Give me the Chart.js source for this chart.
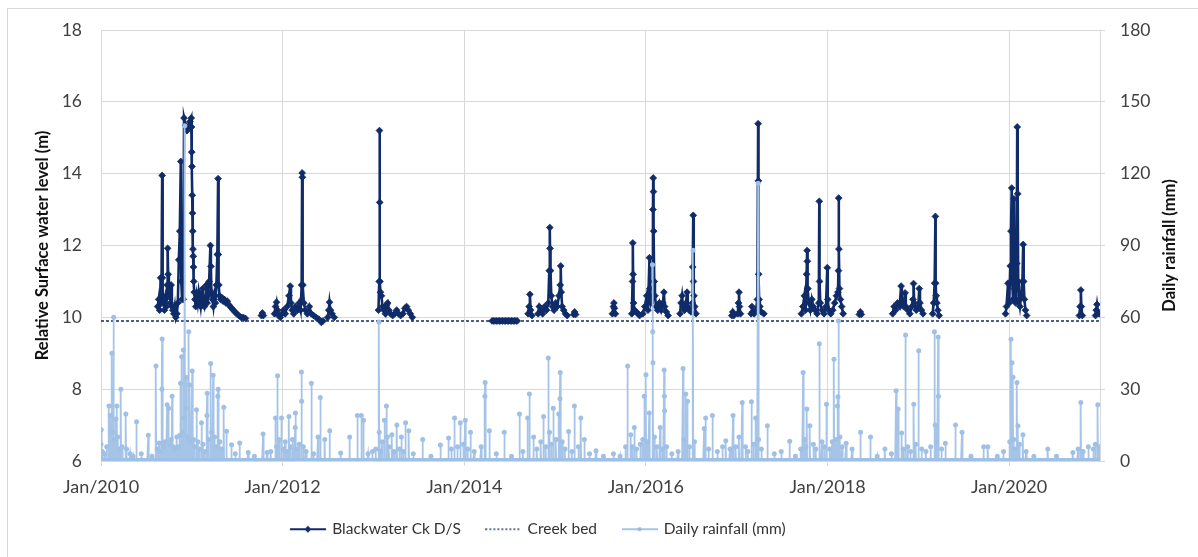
<!DOCTYPE html>
<html>
<head>
<meta charset="utf-8">
<title>Blackwater Creek D/S – surface water level and daily rainfall</title>
<script src="https://cdn.jsdelivr.net/npm/chart.js@4.4.1/dist/chart.umd.min.js"></script>
<style>
  html, body { margin: 0; padding: 0; background: #ffffff; }
  canvas { display: block; }
</style>
</head>
<body>
<canvas id="chart" width="1198" height="557"></canvas>
<script>
// ---- Axis ticks ----
const xTickDates  = ["2010-01-01", "2012-01-01", "2014-01-01", "2016-01-01", "2018-01-01", "2020-01-01"];
const xTickLabels = ["Jan/2010", "Jan/2012", "Jan/2014", "Jan/2016", "Jan/2018", "Jan/2020"];
const xRange = ["2010-01-01", "2021-01-01"];
const levelRange = [6, 18, 2];      // min, max, step (m)
const rainRange = [0, 180, 30];     // min, max, step (mm)

// ---- Creek bed reference level (m) ----
const creekBedLevel = 9.9;

// ---- Blackwater Ck D/S relative surface water level (m); null marks a break in the record ----
const waterLevel = [
  ["2010-08-17",10.3],["2010-08-21",10.5],["2010-08-25",10.2],["2010-08-29",11.1],["2010-09-01",10.4],
  ["2010-09-04",13.95],["2010-09-05",11.1],["2010-09-07",10.6],["2010-09-10",10.4],["2010-09-13",10.2],
  ["2010-09-17",10.5],["2010-09-21",10.3],["2010-09-24",10.9],["2010-09-26",11.92],["2010-09-28",11.2],
  ["2010-10-01",10.6],["2010-10-04",10.9],["2010-10-07",10.4],["2010-10-10",10.9],["2010-10-13",10.3],
  ["2010-10-17",10.2],["2010-10-21",10.1],["2010-10-25",10.3],["2010-10-29",10.0],["2010-11-02",10.1],
  ["2010-11-06",10.4],["2010-11-10",11.6],["2010-11-14",12.4],["2010-11-18",14.34],["2010-11-20",11.0],
  ["2010-11-23",10.5],["2010-11-28",10.5],["2010-12-01",15.55],["2010-12-07",15.35],["2010-12-13",15.2],
  ["2010-12-19",15.3],["2010-12-25",15.45],["2010-12-30",15.55],["2010-12-31",15.3],["2011-01-01",14.6],
  ["2011-01-02",14.2],["2011-01-03",13.4],["2011-01-04",12.9],["2011-01-05",12.4],["2011-01-06",11.9],
  ["2011-01-07",11.7],["2011-01-08",11.4],["2011-01-09",11.0],["2011-01-11",10.7],["2011-01-14",10.5],
  ["2011-01-17",10.3],["2011-01-21",10.6],["2011-01-25",10.4],["2011-01-29",10.7],["2011-02-02",10.5],
  ["2011-02-06",10.3],["2011-02-10",10.6],["2011-02-14",10.8],["2011-02-17",10.4],["2011-02-21",10.3],
  ["2011-02-25",10.5],["2011-03-01",10.9],["2011-03-04",10.4],["2011-03-08",10.6],["2011-03-12",11.0],
  ["2011-03-17",12.0],["2011-03-19",11.42],["2011-03-21",10.7],["2011-03-25",10.5],["2011-03-29",10.3],
  ["2011-04-02",10.6],["2011-04-06",10.4],["2011-04-10",10.9],["2011-04-14",11.75],["2011-04-17",13.86],
  ["2011-04-18",11.75],["2011-04-20",10.9],["2011-04-23",10.6],["2011-04-27",10.5],["2011-05-02",10.55],
  ["2011-05-07",10.45],["2011-05-12",10.5],["2011-05-18",10.4],["2011-05-24",10.45],["2011-05-30",10.35],
  ["2011-06-05",10.3],["2011-06-11",10.25],["2011-06-17",10.2],["2011-06-24",10.15],["2011-07-01",10.1],
  ["2011-07-09",10.05],["2011-07-18",10.0],["2011-07-27",10.0],["2011-08-05",9.97],
  ["2011-08-20",null],
  ["2011-10-08",10.05],["2011-10-12",10.12],["2011-10-16",10.05],
  ["2011-11-10",null],
  ["2011-11-30",10.1],["2011-12-04",10.3],["2011-12-08",10.42],["2011-12-12",10.2],["2011-12-17",10.05],
  ["2011-12-23",10.0],["2011-12-30",10.1],["2012-01-05",10.2],["2012-01-12",10.1],["2012-01-20",10.3],
  ["2012-01-27",10.6],["2012-02-01",10.87],["2012-02-04",10.4],["2012-02-09",10.2],["2012-02-15",10.1],
  ["2012-02-22",10.3],["2012-03-01",10.2],["2012-03-08",10.4],["2012-03-14",10.2],["2012-03-18",10.9],
  ["2012-03-20",14.02],["2012-03-21",13.9],["2012-03-23",10.9],["2012-03-27",10.4],["2012-04-02",10.2],
  ["2012-04-10",10.1],["2012-04-18",10.3],["2012-04-26",10.1],["2012-05-05",10.05],["2012-05-15",10.0],
  ["2012-05-26",9.95],["2012-06-05",9.86],["2012-06-12",9.9],
  ["2012-06-20",null],
  ["2012-07-01",10.0],["2012-07-05",10.2],["2012-07-08",10.42],["2012-07-12",10.2],["2012-07-18",10.1],
  ["2012-07-27",10.0],
  ["2012-08-15",null],
  ["2013-01-21",10.2],["2013-01-24",11.0],["2013-01-25",15.2],["2013-01-26",13.2],["2013-01-27",11.0],
  ["2013-01-29",10.7],["2013-02-02",10.6],["2013-02-06",10.3],["2013-02-12",10.2],["2013-02-18",10.1],
  ["2013-02-23",10.35],["2013-02-27",10.4],["2013-03-04",10.2],["2013-03-11",10.1],["2013-03-19",10.05],
  ["2013-03-27",10.1],["2013-04-04",10.2],["2013-04-12",10.1],["2013-04-20",10.05],["2013-04-29",10.1],
  ["2013-05-07",10.25],["2013-05-14",10.3],["2013-05-21",10.2],["2013-05-29",10.1],["2013-06-06",10.0],
  ["2013-07-01",null],
  ["2014-04-23",9.9],["2014-04-29",9.9],["2014-05-05",9.9],["2014-05-11",9.9],["2014-05-17",9.9],
  ["2014-05-23",9.9],["2014-05-29",9.9],["2014-06-04",9.9],["2014-06-10",9.9],["2014-06-16",9.9],
  ["2014-06-22",9.9],["2014-06-28",9.9],["2014-07-04",9.9],["2014-07-10",9.9],["2014-07-16",9.9],
  ["2014-07-22",9.9],["2014-07-28",9.9],["2014-08-02",9.9],
  ["2014-08-20",null],
  ["2014-09-15",10.1],["2014-09-19",10.3],["2014-09-22",10.64],["2014-09-25",10.2],["2014-09-30",10.05],
  ["2014-10-12",null],
  ["2014-10-25",10.1],["2014-10-30",10.3],["2014-11-05",10.2],["2014-11-12",10.1],["2014-11-20",10.3],
  ["2014-11-28",10.2],["2014-12-05",10.4],["2014-12-09",11.3],["2014-12-11",12.5],["2014-12-12",11.92],
  ["2014-12-14",11.3],["2014-12-17",10.6],["2014-12-22",10.3],["2014-12-28",10.2],["2015-01-04",10.4],
  ["2015-01-10",10.3],["2015-01-17",10.6],["2015-01-22",10.9],["2015-01-24",11.43],["2015-01-26",10.7],
  ["2015-01-30",10.3],["2015-02-05",10.2],["2015-02-12",10.1],["2015-02-19",10.05],
  ["2015-03-05",null],
  ["2015-03-17",10.08],["2015-03-21",10.15],["2015-03-25",10.08],
  ["2015-05-01",null],
  ["2015-08-20",10.1],["2015-08-24",10.3],["2015-08-26",10.4],["2015-08-28",10.25],["2015-09-01",10.1],
  ["2015-10-01",null],
  ["2015-11-06",10.1],["2015-11-09",11.0],["2015-11-10",12.07],["2015-11-11",11.2],["2015-11-13",10.4],
  ["2015-11-17",10.2],["2015-11-24",10.15],["2015-12-01",10.1],["2015-12-07",10.05],
  ["2015-12-14",null],
  ["2015-12-20",10.1],["2015-12-28",10.3],["2016-01-05",10.6],["2016-01-10",10.2],["2016-01-16",11.66],
  ["2016-01-18",10.8],["2016-01-22",10.4],["2016-01-27",10.5],["2016-01-30",13.0],["2016-01-31",13.88],
  ["2016-02-01",13.5],["2016-02-02",12.4],["2016-02-04",11.0],["2016-02-07",10.6],["2016-02-12",10.3],
  ["2016-02-18",10.2],["2016-02-25",10.4],["2016-03-03",10.2],["2016-03-10",10.4],["2016-03-14",10.7],
  ["2016-03-17",10.3],["2016-03-24",10.15],["2016-03-31",10.05],
  ["2016-04-20",null],
  ["2016-05-18",10.1],["2016-05-22",10.4],["2016-05-26",10.6],["2016-05-30",10.3],["2016-06-05",10.2],
  ["2016-06-11",10.4],["2016-06-15",10.7],["2016-06-18",10.3],["2016-06-24",10.2],["2016-07-01",10.15],
  ["2016-07-06",10.4],["2016-07-08",11.4],["2016-07-10",12.84],["2016-07-11",11.0],["2016-07-13",10.6],
  ["2016-07-16",10.3],["2016-07-21",10.1],
  ["2016-09-01",null],
  ["2016-12-12",10.05],["2016-12-16",10.15],["2016-12-20",10.05],
  ["2016-12-30",null],
  ["2017-01-05",10.1],["2017-01-08",10.4],["2017-01-10",10.7],["2017-01-12",10.3],["2017-01-16",10.1],
  ["2017-02-10",null],
  ["2017-02-28",10.1],["2017-03-03",10.3],["2017-03-06",10.15],["2017-03-12",10.1],["2017-03-19",10.2],
  ["2017-03-25",10.5],["2017-03-28",15.39],["2017-03-29",13.8],["2017-03-30",11.2],["2017-04-01",10.5],
  ["2017-04-04",10.3],["2017-04-10",10.15],["2017-04-20",10.1],
  ["2017-06-01",null],
  ["2017-09-18",10.1],["2017-09-24",10.3],["2017-09-30",10.6],["2017-10-05",10.2],["2017-10-09",11.2],
  ["2017-10-11",11.86],["2017-10-12",11.56],["2017-10-14",10.8],["2017-10-18",10.4],["2017-10-24",10.2],
  ["2017-10-30",10.5],["2017-11-05",10.3],["2017-11-12",10.2],["2017-11-20",10.1],["2017-11-27",10.4],
  ["2017-11-29",13.23],["2017-11-30",11.0],["2017-12-03",10.4],["2017-12-10",10.2],["2017-12-18",10.1],
  ["2017-12-26",10.3],["2017-12-31",11.38],["2018-01-02",10.5],["2018-01-06",10.2],["2018-01-14",10.1],
  ["2018-01-22",10.2],["2018-01-30",10.4],["2018-02-06",10.6],["2018-02-12",10.7],["2018-02-14",11.3],
  ["2018-02-15",13.32],["2018-02-16",11.9],["2018-02-18",10.8],["2018-02-22",10.5],["2018-02-27",10.3],
  ["2018-03-05",10.1],
  ["2018-04-01",null],
  ["2018-05-09",10.08],["2018-05-13",10.15],["2018-05-17",10.08],
  ["2018-07-01",null],
  ["2018-09-20",10.1],["2018-09-26",10.3],["2018-10-02",10.2],["2018-10-10",10.4],["2018-10-18",10.3],
  ["2018-10-24",10.87],["2018-10-27",10.4],["2018-11-03",10.3],["2018-11-09",10.68],["2018-11-12",10.3],
  ["2018-11-20",10.2],["2018-11-28",10.1],["2018-12-06",10.3],["2018-12-11",10.5],["2018-12-13",10.94],
  ["2018-12-16",10.4],["2018-12-24",10.2],["2019-01-01",10.3],["2019-01-05",10.8],["2019-01-08",10.4],
  ["2019-01-14",10.2],["2019-01-20",10.1],
  ["2019-02-10",null],
  ["2019-02-28",10.1],["2019-03-04",10.4],["2019-03-08",10.95],["2019-03-11",12.81],["2019-03-12",10.95],
  ["2019-03-14",10.6],["2019-03-17",10.4],["2019-03-21",10.2],["2019-03-26",10.05],
  ["2019-06-01",null],
  ["2019-12-18",10.1],["2019-12-22",10.3],["2019-12-28",10.95],["2020-01-02",10.4],["2020-01-06",11.43],
  ["2020-01-09",12.4],["2020-01-12",13.6],["2020-01-14",11.0],["2020-01-17",10.5],["2020-01-21",13.3],
  ["2020-01-24",10.8],["2020-01-28",10.4],["2020-02-01",11.5],["2020-02-03",15.3],["2020-02-05",13.44],
  ["2020-02-07",11.0],["2020-02-10",10.5],["2020-02-14",10.3],["2020-02-19",10.6],["2020-02-24",11.0],
  ["2020-02-27",12.03],["2020-02-29",11.0],["2020-03-03",10.5],["2020-03-07",10.2],["2020-03-12",10.05],
  ["2020-06-01",null],
  ["2020-10-10",10.05],["2020-10-13",10.3],["2020-10-16",10.76],["2020-10-18",10.3],["2020-10-22",10.05],
  ["2020-11-20",null],
  ["2020-12-14",10.05],["2020-12-17",10.2],["2020-12-20",10.36],["2020-12-24",10.15],["2020-12-29",10.1]
];

// ---- Daily rainfall (mm): days with recorded rain; all other days are 0 mm ----
const dailyRainfall = [
  ["2010-01-01",7],["2010-01-02",13],["2010-01-06",4],["2010-01-15",3],["2010-01-24",6],["2010-02-02",23],
  ["2010-02-07",19],["2010-02-14",45],["2010-02-18",12],["2010-02-21",60],["2010-02-24",9],["2010-03-02",17.5],
  ["2010-03-06",23],["2010-03-10",10],["2010-03-16",5],["2010-03-22",30],["2010-03-27",6],["2010-04-11",19.6],
  ["2010-04-14",5],["2010-04-28",3],["2010-05-10",2],["2010-05-24",16.4],["2010-06-12",3],["2010-07-10",10.8],
  ["2010-07-25",2],["2010-08-10",39.7],["2010-08-15",5],["2010-08-23",7.5],["2010-08-28",4],["2010-09-03",30],
  ["2010-09-04",51],["2010-09-10",6],["2010-09-15",8],["2010-09-24",23.5],["2010-09-30",22],["2010-10-05",7],
  ["2010-10-10",9],["2010-10-14",27],["2010-10-20",6],["2010-10-26",5],["2010-11-02",10],["2010-11-08",6],
  ["2010-11-14",10.8],["2010-11-17",32.5],["2010-11-21",43.5],["2010-11-25",12],["2010-11-28",46.4],
  ["2010-12-01",18],["2010-12-04",140],["2010-12-07",22],["2010-12-11",35],["2010-12-15",10],["2010-12-20",54],
  ["2010-12-24",31.7],["2010-12-28",8],
  ["2011-01-03",37.6],["2011-01-08",9],["2011-01-13",6],["2011-01-20",21.4],["2011-01-26",8],["2011-02-02",5],
  ["2011-02-09",16],["2011-02-15",7],["2011-02-22",4],["2011-03-03",19],["2011-03-04",28.3],["2011-03-10",9],
  ["2011-03-18",40.7],["2011-03-22",12],["2011-03-28",35.8],["2011-04-03",10],["2011-04-09",6],["2011-04-16",27],
  ["2011-04-17",30],["2011-04-24",8],["2011-05-02",5],["2011-05-10",22.4],["2011-05-21",12.4],["2011-06-10",6.8],
  ["2011-06-25",3],["2011-07-13",7.5],["2011-08-16",3.5],["2011-09-10",2],["2011-10-15",11.3],["2011-10-31",3.5],
  ["2011-11-15",4],["2011-12-04",18],["2011-12-08",6],["2011-12-12",35.6],["2011-12-18",9],["2011-12-28",18],
  ["2012-01-05",5],["2012-01-12",8],["2012-01-20",4],["2012-01-27",18.6],["2012-02-02",6],["2012-02-10",9],
  ["2012-02-21",14],["2012-02-22",20],["2012-02-28",5],["2012-03-08",7],["2012-03-17",37.2],["2012-03-18",25],
  ["2012-03-25",6],["2012-04-05",4],["2012-04-26",32.5],["2012-05-05",3],["2012-05-23",10],["2012-06-01",26.5],
  ["2012-06-19",9],["2012-07-09",12.6],["2012-08-22",3.3],["2012-09-27",10],["2012-10-28",19],["2012-11-13",19],
  ["2012-11-22",17],["2012-12-10",3],["2012-12-28",4],
  ["2013-01-10",5],["2013-01-23",58],["2013-01-24",12],["2013-01-28",4],["2013-02-05",8],["2013-02-14",17],
  ["2013-02-22",23],["2013-02-26",10],["2013-03-04",6],["2013-03-16",11],["2013-03-25",4],["2013-04-05",15],
  ["2013-04-15",5],["2013-04-23",10],["2013-05-01",4],["2013-05-10",16],["2013-05-23",12.6],["2013-06-10",3],
  ["2013-07-18",9],["2013-08-20",2],["2013-09-27",6.7],["2013-10-30",9.6],["2013-11-10",5],["2013-11-23",18],
  ["2013-12-05",6],["2013-12-16",16],["2013-12-28",7],
  ["2014-01-05",17],["2014-01-15",5],["2014-01-26",12],["2014-02-10",4],["2014-03-10",6],["2014-03-25",27],
  ["2014-03-26",32.8],["2014-04-12",12.6],["2014-05-10",3],["2014-06-11",12],["2014-07-10",2],["2014-08-11",19.6],
  ["2014-08-25",4],["2014-09-13",18],["2014-09-20",28],["2014-10-07",10],["2014-10-20",5],["2014-11-05",8],
  ["2014-11-16",18.6],["2014-11-25",6],["2014-12-05",43],["2014-12-10",12],["2014-12-17",7],["2014-12-25",22],
  ["2015-01-05",9],["2015-01-16",19.6],["2015-01-21",26],["2015-01-22",37],["2015-01-30",8],["2015-02-10",5],
  ["2015-02-25",12.3],["2015-03-10",4],["2015-03-20",23],["2015-04-05",6],["2015-04-15",18],["2015-04-29",9],
  ["2015-05-20",3],["2015-06-15",4.3],["2015-07-15",2],["2015-08-24",3],["2015-09-20",2],["2015-10-12",6],
  ["2015-10-20",39.7],["2015-11-02",11],["2015-11-08",6],["2015-11-16",14],["2015-11-25",5],["2015-12-10",7],
  ["2015-12-20",9],["2015-12-26",27],
  ["2016-01-02",36],["2016-01-08",8],["2016-01-15",20],["2016-01-28",82],["2016-01-29",54],["2016-01-30",41],
  ["2016-02-05",10],["2016-02-15",6],["2016-02-28",14],["2016-03-08",5],["2016-03-15",38],["2016-03-16",27],
  ["2016-03-17",21],["2016-03-25",6],["2016-04-15",3],["2016-05-10",4],["2016-05-30",38.6],["2016-06-03",9],
  ["2016-06-10",28],["2016-06-17",25],["2016-06-25",6],["2016-07-09",88],["2016-07-15",8],["2016-08-23",13.6],
  ["2016-08-29",18],["2016-09-10",5],["2016-09-25",19],["2016-10-15",4],["2016-11-05",6],["2016-11-18",8.5],
  ["2016-12-05",5],["2016-12-17",19],["2016-12-28",6],
  ["2017-01-10",10],["2017-01-23",24.4],["2017-02-05",6],["2017-02-15",4],["2017-03-01",24.7],["2017-03-10",7],
  ["2017-03-18",18],["2017-03-28",116],["2017-03-30",9],["2017-04-10",5],["2017-05-04",14.7],["2017-06-01",3],
  ["2017-06-29",4],["2017-08-02",8.2],["2017-08-25",2],["2017-09-15",5],["2017-09-25",37],["2017-10-01",9],
  ["2017-10-06",6],["2017-10-10",21.7],["2017-10-22",14.7],["2017-11-05",7],["2017-11-15",5],["2017-11-29",49],
  ["2017-12-10",8],["2017-12-20",6],["2017-12-28",23.7],
  ["2018-01-10",5],["2018-01-20",8],["2018-01-27",42.5],["2018-02-05",9],["2018-02-10",23],["2018-02-12",26.8],
  ["2018-02-14",58.5],["2018-02-20",10],["2018-03-01",6],["2018-03-17",7.4],["2018-04-10",5],["2018-05-14",12],
  ["2018-06-23",10],["2018-07-20",2],["2018-08-20",5],["2018-09-15",3],["2018-10-04",29.3],["2018-10-12",21.7],
  ["2018-10-26",11.7],["2018-11-01",5],["2018-11-11",52.6],["2018-11-20",6],["2018-12-01",4],["2018-12-14",23.7],
  ["2018-12-22",7],
  ["2019-01-03",46],["2019-01-15",5],["2019-02-01",4],["2019-02-20",6],["2019-03-07",54],["2019-03-10",15],
  ["2019-03-15",8],["2019-03-22",51.8],["2019-03-23",27],["2019-04-05",5],["2019-04-20",7.4],["2019-05-31",15],
  ["2019-06-26",12],["2019-08-01",2],["2019-09-21",6],["2019-10-08",6],["2019-11-15",2],["2019-12-10",4],
  ["2020-01-04",8],["2020-01-09",50.8],["2020-01-13",41],["2020-01-17",35],["2020-01-20",9],["2020-01-25",5],
  ["2020-02-02",32.8],["2020-02-06",14.7],["2020-02-12",7],["2020-02-26",11],["2020-03-10",4],["2020-04-10",2],
  ["2020-06-05",5],["2020-07-10",2],["2020-09-14",3.6],["2020-10-05",5],["2020-10-16",24.4],["2020-10-25",4],
  ["2020-11-15",6],["2020-12-05",5],["2020-12-13",7],["2020-12-23",23.5],["2020-12-28",6]
];

// ---- Series labels ----
const seriesNames = ["Blackwater Ck D/S", "Creek bed", "Daily rainfall (mm)"];
const axisTitles = ["Relative Surface water level (m)", "Daily rainfall (mm)"];

// ---- Styling ----
const NAVY = "#0f2b68";
const LIGHT = "#a5c4e7";
const GRID = "#d9d9d9";
const TICK_TEXT = "#404040";
const FONT = "Lato, 'Open Sans', sans-serif";

const DAY = 86400000;
const toTime = s => { const [y, m, d] = s.split("-").map(Number); return Date.UTC(y, m - 1, d); };
const isoDay = ms => new Date(ms).toISOString().slice(0, 10);

// water-level points (null keeps the line broken across unrecorded periods)
const waterPoints = waterLevel.map(([d, v]) => ({ x: toTime(d), y: v }));

// creek bed line across the full time axis
const creekPoints = xRange.map(d => ({ x: toTime(d), y: creekBedLevel }));

// one point per day of the record
const rainByDay = new Map(dailyRainfall);
const rainPoints = [];
for (let ms = toTime("2010-01-01"); ms < toTime(xRange[1]); ms += DAY) {
  rainPoints.push({ x: ms, y: rainByDay.has(isoDay(ms)) ? rainByDay.get(isoDay(ms)) : 0 });
}

// small legend swatches: line + marker
function swatch(draw) {
  const c = document.createElement("canvas");
  c.width = 36; c.height = 12;
  draw(c.getContext("2d"));
  return c;
}
const swWater = swatch(g => {
  g.strokeStyle = NAVY; g.lineWidth = 2;
  g.beginPath(); g.moveTo(0, 6); g.lineTo(36, 6); g.stroke();
  g.fillStyle = NAVY;
  g.beginPath(); g.moveTo(18, 2.5); g.lineTo(21.5, 6); g.lineTo(18, 9.5); g.lineTo(14.5, 6); g.closePath(); g.fill();
});
const swCreek = swatch(g => {
  g.strokeStyle = NAVY; g.lineWidth = 1.3; g.setLineDash([2, 2]);
  g.beginPath(); g.moveTo(0, 6); g.lineTo(36, 6); g.stroke();
});
const swRain = swatch(g => {
  g.strokeStyle = LIGHT; g.lineWidth = 2;
  g.beginPath(); g.moveTo(0, 6); g.lineTo(36, 6); g.stroke();
  g.fillStyle = "#93b6df";
  g.beginPath(); g.arc(18, 6, 2, 0, Math.PI * 2); g.fill();
});

// frame around the whole chart + right-hand axis title (reads bottom-to-top)
const decorations = {
  id: "decorations",
  beforeDraw(chart) {
    const ctx = chart.ctx;
    ctx.save();
    ctx.strokeStyle = "#d9d9d9";
    ctx.lineWidth = 1;
    ctx.strokeRect(7.5, 8.5, 1200, 600);
    ctx.restore();
  },
  afterDraw(chart) {
    const ctx = chart.ctx;
    const a = chart.chartArea;
    ctx.save();
    ctx.translate(1170, (a.top + a.bottom) / 2);
    ctx.rotate(-Math.PI / 2);
    ctx.fillStyle = "#111111";
    ctx.font = "bold 16.5px " + FONT;
    ctx.textAlign = "center";
    ctx.textBaseline = "middle";
    ctx.fillText(axisTitles[1], 0, 0);
    ctx.restore();
  },
  afterLayout(chart) {
    // centre the legend row under the plot's left part
    const lg = chart.legend;
    if (lg) { lg.right = lg.left + 1077; lg.width = 1077; }
  }
};

new Chart(document.getElementById("chart"), {
  type: "line",
  data: {
    datasets: [
      {
        label: seriesNames[0], data: waterPoints, yAxisID: "y", order: 1,
        borderColor: NAVY, backgroundColor: NAVY, borderWidth: 2.6,
        pointStyle: "rectRot", pointRadius: 3.4, pointBorderWidth: 0.8,
        pointBackgroundColor: NAVY, pointBorderColor: NAVY,
        spanGaps: false, tension: 0
      },
      {
        label: seriesNames[1], data: creekPoints, yAxisID: "y", order: 2,
        borderColor: NAVY, borderWidth: 1.6, borderDash: [3, 2], pointRadius: 0
      },
      {
        label: seriesNames[2], data: rainPoints, yAxisID: "y1", order: 0,
        borderColor: LIGHT, backgroundColor: LIGHT, borderWidth: 1.8,
        pointStyle: "circle", pointRadius: 2.5, pointBorderWidth: 0,
        pointBackgroundColor: "#a0c0e5", tension: 0
      }
    ]
  },
  options: {
    responsive: false,
    animation: false,
    parsing: false,
    normalized: true,
    layout: { padding: { left: 0, right: 0, top: 30, bottom: 10 } },
    plugins: {
      tooltip: { enabled: false },
      legend: {
        position: "bottom",
        labels: {
          usePointStyle: true,
          pointStyleWidth: 33,
          boxHeight: 12,
          padding: 26,
          color: "#333333",
          font: { family: FONT, size: 15.5 },
          generateLabels: () => [swWater, swCreek, swRain].map((img, i) => ({
            text: seriesNames[i], pointStyle: img, datasetIndex: i,
            hidden: false, lineWidth: 0, fillStyle: "transparent", strokeStyle: "transparent",
            fontColor: "#333333"
          }))
        }
      }
    },
    scales: {
      x: {
        type: "linear",
        min: toTime(xRange[0]),
        max: toTime(xRange[1]),
        afterBuildTicks: s => { s.ticks = xTickDates.map(d => ({ value: toTime(d) })); },
        afterFit: s => { s.height = 34.5; },
        ticks: {
          autoSkip: false, maxRotation: 0, padding: 10,
          color: TICK_TEXT, font: { family: FONT, size: 18 },
          callback: (v, i) => xTickLabels[i]
        },
        grid: { color: GRID, lineWidth: 1, tickLength: 5, tickColor: GRID },
        border: { color: GRID }
      },
      y: {
        position: "left",
        min: levelRange[0], max: levelRange[1],
        ticks: { stepSize: levelRange[2], padding: 19, color: TICK_TEXT, font: { family: FONT, size: 17.5 } },
        grid: { color: GRID, lineWidth: 1, drawTicks: false },
        border: { color: GRID },
        afterFit: s => { s.width = 101; },
        title: {
          display: true, text: axisTitles[0], color: "#111111",
          font: { family: FONT, size: 16.5, weight: "bold" },
          padding: { top: 33, bottom: 0 }
        }
      },
      y1: {
        position: "right",
        min: rainRange[0], max: rainRange[1],
        ticks: { stepSize: rainRange[2], padding: 15, color: TICK_TEXT, font: { family: FONT, size: 17.5 } },
        grid: { drawOnChartArea: false, color: GRID, tickLength: 5, tickColor: GRID },
        border: { color: GRID },
        afterFit: s => { s.width = 98; }
      }
    }
  },
  plugins: [decorations]
});
</script>
</body>
</html>
